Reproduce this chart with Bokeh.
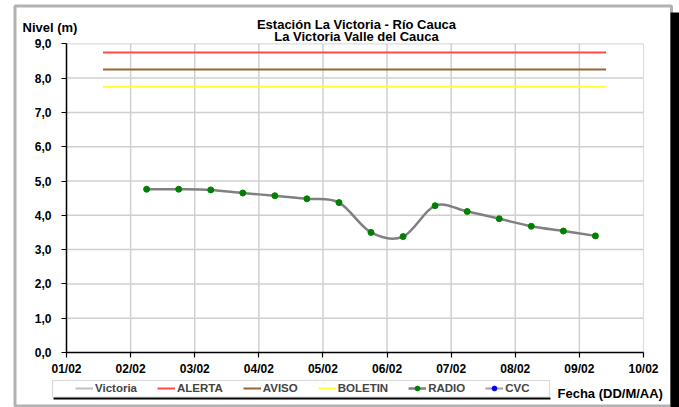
import pandas as pd
from bokeh.plotting import figure
from bokeh.models import (Range1d, FixedTicker, DatetimeTickFormatter, Label,
                          BoxAnnotation, Legend, LegendItem)
from bokeh.embed import file_html
from bokeh.resources import INLINE

NaN = float("nan")

# ---------------- data ----------------
radio_times = ["2011-02-02 06:00", "2011-02-02 18:00", "2011-02-03 06:00", "2011-02-03 18:00",
               "2011-02-04 06:00", "2011-02-04 18:00", "2011-02-05 06:00", "2011-02-05 18:00",
               "2011-02-06 06:00", "2011-02-06 18:00", "2011-02-07 06:00", "2011-02-07 18:00",
               "2011-02-08 06:00", "2011-02-08 18:00", "2011-02-09 06:00"]
radio_levels = [4.76, 4.76, 4.74, 4.65, 4.57, 4.48, 4.37, 3.50, 3.38, 4.28, 4.11, 3.90, 3.68, 3.54, 3.40]

# series without visible data in the chart
victoria_levels = [NaN]
cvc_levels = [NaN]

threshold_times = ["2011-02-01 13:40", "2011-02-09 10:00"]
alerta_level = [8.75, 8.75]
aviso_level = [8.25, 8.25]
boletin_level = [7.75, 7.75]

tick_dates = ["2011-02-01", "2011-02-02", "2011-02-03", "2011-02-04", "2011-02-05",
              "2011-02-06", "2011-02-07", "2011-02-08", "2011-02-09", "2011-02-10"]
y_ticks = [0, 1, 2, 3, 4, 5, 6, 7, 8, 9]
y_tick_labels = ["0,0", "1,0", "2,0", "3,0", "4,0", "5,0", "6,0", "7,0", "8,0", "9,0"]

title_1 = "Estación La Victoria - Río Cauca"
title_2 = "La Victoria Valle del Cauca"
y_title = "Nivel (m)"
x_title = "Fecha (DD/M/AA)"

# ---------------- helpers ----------------
def to_ms(values):
    return [float(v) for v in (pd.to_datetime(values).astype("int64") // 10**6)]

tick_ms = to_ms(tick_dates)
rx = to_ms(radio_times)
ry = list(radio_levels)
tx = to_ms(threshold_times)

W, H = 679, 407
# pixel layout of the plot area inside the canvas
PL, PR, PT, PB = 66.0, 643.0, 43.3, 352.0
ms_per_px = (tick_ms[-1] - tick_ms[0]) / (PR - PL)
u_per_px = (y_ticks[-1] - y_ticks[0]) / (PB - PT)
x_lo = tick_ms[0] - PL * ms_per_px
x_hi = tick_ms[0] + (W - PL) * ms_per_px
y_hi = y_ticks[-1] + PT * u_per_px
y_lo = y_ticks[-1] - (H - PT) * u_per_px

def X(px):
    return x_lo + px * ms_per_px

def Y(py):
    return y_hi - py * u_per_px

# smooth curve through the points (Catmull-Rom -> cubic Bezier segments)
n = len(rx)
bx0, by0, bx1, by1, cx0, cy0, cx1, cy1 = [], [], [], [], [], [], [], []
for i in range(n - 1):
    a = max(i - 1, 0)
    d = min(i + 2, n - 1)
    bx0.append(rx[i]); by0.append(ry[i])
    bx1.append(rx[i + 1]); by1.append(ry[i + 1])
    cx0.append(rx[i] + (rx[i + 1] - rx[a]) / 6.0)
    cy0.append(ry[i] + (ry[i + 1] - ry[a]) / 6.0)
    cx1.append(rx[i + 1] - (rx[d] - rx[i]) / 6.0)
    cy1.append(ry[i + 1] - (ry[d] - ry[i]) / 6.0)

FONT = "Liberation Sans"

p = figure(width=W, height=H, x_axis_type="datetime",
           output_backend="svg", toolbar_location=None,
           x_range=Range1d(x_lo, x_hi), y_range=Range1d(y_lo, y_hi),
           min_border=0)
p.background_fill_color = "white"
p.border_fill_color = "white"
p.outline_line_color = None
p.grid.visible = False

# grid lines (bounded to the plot area)
p.segment(x0=tick_ms[1:-1], y0=[y_ticks[0]] * (len(tick_ms) - 2),
          x1=tick_ms[1:-1], y1=[y_ticks[-1]] * (len(tick_ms) - 2),
          line_color="#D0D0D0", line_width=1.5)
p.segment(x0=[tick_ms[0]] * (len(y_ticks) - 2), y0=y_ticks[1:-1],
          x1=[tick_ms[-1]] * (len(y_ticks) - 2), y1=y_ticks[1:-1],
          line_color="#D0D0D0", line_width=1.5)
# plot area border (grey)
p.add_layout(BoxAnnotation(left=tick_ms[0], right=tick_ms[-1], bottom=y_ticks[0], top=y_ticks[-1],
                           fill_alpha=0, line_color="#8C8C8C", line_width=1.2, level="underlay"))

# axes at fixed locations
p.xaxis.fixed_location = y_ticks[0]
p.yaxis.fixed_location = tick_ms[0]
p.xaxis.bounds = (tick_ms[0], tick_ms[-1])
p.yaxis.bounds = (y_ticks[0], y_ticks[-1])
p.xaxis.ticker = FixedTicker(ticks=tick_ms)
p.xaxis.formatter = DatetimeTickFormatter(days="%d/%m", months="%d/%m", hours="%d/%m",
                                          years="%d/%m", minutes="%d/%m")
p.yaxis.ticker = FixedTicker(ticks=y_ticks)
p.yaxis.major_label_overrides = {t: l for t, l in zip(y_ticks, y_tick_labels)}
for ax in (p.xaxis, p.yaxis):
    ax.axis_line_color = "black"
    ax.axis_line_width = 1.5
    ax.major_tick_line_color = "black"
    ax.major_tick_line_width = 1.2
    ax.major_tick_in = 0
    ax.major_tick_out = 5
    ax.minor_tick_line_color = None
    ax.major_label_text_font = FONT
    ax.major_label_text_font_style = "bold"
    ax.major_label_text_font_size = "12px"
    ax.major_label_text_color = "black"
p.xaxis.major_label_standoff = 4
p.yaxis.major_label_standoff = 10

# series
r_vic = p.line(x=[tick_ms[0]], y=victoria_levels, line_color="#C0C0C0", line_width=2)
r_alerta = p.line(x=tx, y=alerta_level, line_color="#FF4A4A", line_width=2)
r_aviso = p.line(x=tx, y=aviso_level, line_color="#996633", line_width=2)
r_boletin = p.line(x=tx, y=boletin_level, line_color="#FFFF33", line_width=2)
r_radio_line = p.bezier(x0=bx0, y0=by0, x1=bx1, y1=by1, cx0=cx0, cy0=cy0, cx1=cx1, cy1=cy1,
                        line_color="#808080", line_width=2.5)
r_radio = p.scatter(x=rx, y=ry, size=6, fill_color="#008000", line_color="#008000")
r_cvc_line = p.line(x=[tick_ms[0]], y=cvc_levels, line_color="#A0A0A0", line_width=2)
r_cvc = p.scatter(x=[tick_ms[0]], y=cvc_levels, size=5, fill_color="#0000FF", line_color="#0000FF")

# legend box + shadow
p.add_layout(BoxAnnotation(left=X(53), right=X(550), top=Y(397), bottom=Y(399),
                           fill_color="black", fill_alpha=1, line_alpha=0))
p.add_layout(BoxAnnotation(left=X(52), right=X(549), top=Y(380), bottom=Y(396.5),
                           fill_color="white", fill_alpha=1, line_color="#808080", line_width=1.2))

legend = Legend(items=[
    LegendItem(label="Victoria", renderers=[r_vic]),
    LegendItem(label="ALERTA", renderers=[r_alerta]),
    LegendItem(label="AVISO", renderers=[r_aviso]),
    LegendItem(label="BOLETIN", renderers=[r_boletin]),
    LegendItem(label="RADIO", renderers=[r_radio_line, r_radio]),
    LegendItem(label="CVC", renderers=[r_cvc_line, r_cvc]),
], orientation="horizontal", location=(72, H - 397))
legend.padding = 3
legend.margin = 0
legend.spacing = 20
legend.glyph_width = 18
legend.glyph_height = 12
legend.label_height = 12
legend.label_standoff = 2
legend.label_text_font = FONT
legend.label_text_font_style = "bold"
legend.label_text_font_size = "11.5px"
legend.border_line_alpha = 0
legend.background_fill_alpha = 0
p.add_layout(legend)

# texts
def add_label(text, px, py, align, size):
    p.add_layout(Label(x=X(px), y=Y(py), text=text,
                       text_align=align, text_baseline="alphabetic",
                       text_font=FONT, text_font_style="bold",
                       text_font_size=size, text_color="black"))

add_label(title_1, 356, 24, "center", "13px")
add_label(title_2, 356, 36, "center", "13px")
add_label(y_title, 22, 27, "left", "13px")
add_label(x_title, 557, 393, "left", "13px")

# outer chart border with shadow on the right
p.add_layout(BoxAnnotation(left=X(670), right=X(679), top=Y(12), bottom=Y(407),
                           fill_color="black", fill_alpha=1, line_alpha=0))
p.add_layout(BoxAnnotation(left=X(14.5), right=X(671), top=Y(5.5), bottom=Y(405.5),
                           fill_alpha=0, line_color="black", line_width=3))

open("out.html", "w").write(file_html(p, INLINE))
